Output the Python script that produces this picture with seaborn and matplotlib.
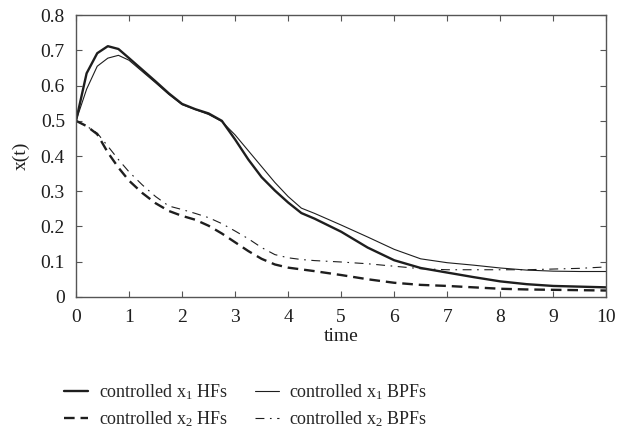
import numpy as np
import pandas as pd
import matplotlib
matplotlib.use("Agg")
import matplotlib.pyplot as plt
import seaborn as sns

# values
time = [0, 0.2, 0.4, 0.6, 0.8, 1.0, 1.25, 1.5, 1.75, 2.0, 2.25, 2.5, 2.75, 3.0, 3.25,
        3.5, 3.75, 4.0, 4.25, 4.5, 5.0, 5.5, 6.0, 6.5, 7.0, 7.5, 8.0, 8.5, 9.0, 9.5, 10.0]
x1_hf = [0.5, 0.635, 0.692, 0.712, 0.704, 0.678, 0.645, 0.612, 0.578, 0.548, 0.533, 0.521,
         0.500, 0.447, 0.39, 0.34, 0.302, 0.268, 0.238, 0.222, 0.185, 0.14, 0.104, 0.082,
         0.069, 0.056, 0.044, 0.036, 0.031, 0.029, 0.027]
x1_bpf = [0.5, 0.59, 0.655, 0.678, 0.686, 0.672, 0.64, 0.608, 0.575, 0.546, 0.532, 0.518,
          0.498, 0.46, 0.415, 0.37, 0.325, 0.285, 0.252, 0.237, 0.204, 0.17, 0.135, 0.108,
          0.097, 0.09, 0.082, 0.076, 0.073, 0.072, 0.072]
x2_hf = [0.5, 0.485, 0.462, 0.41, 0.367, 0.33, 0.295, 0.266, 0.244, 0.23, 0.219, 0.202,
         0.18, 0.155, 0.13, 0.108, 0.092, 0.083, 0.078, 0.073, 0.062, 0.05, 0.04, 0.034,
         0.031, 0.027, 0.023, 0.021, 0.02, 0.019, 0.018]
x2_bpf = [0.5, 0.485, 0.465, 0.428, 0.39, 0.355, 0.318, 0.285, 0.258, 0.248, 0.237, 0.225,
          0.208, 0.187, 0.165, 0.14, 0.12, 0.111, 0.106, 0.103, 0.099, 0.094, 0.087, 0.08,
          0.077, 0.077, 0.077, 0.077, 0.079, 0.081, 0.085]

labels = ["controlled x$_1$ HFs", "controlled x$_2$ HFs",
          "controlled x$_1$ BPFs", "controlled x$_2$ BPFs"]
xticks = [0, 1, 2, 3, 4, 5, 6, 7, 8, 9, 10]
yticks = [0, 0.1, 0.2, 0.3, 0.4, 0.5, 0.6, 0.7, 0.8]
ytick_labels = ["0", "0.1", "0.2", "0.3", "0.4", "0.5", "0.6", "0.7", "0.8"]

sns.set_style("ticks")
plt.rcParams["font.family"] = ["Liberation Serif", "DejaVu Serif"]
plt.rcParams["mathtext.default"] = "regular"

fig = plt.figure(figsize=(6.18, 4.34), dpi=100)
ax = fig.add_axes([0.123, 0.316, 0.858, 0.649])

line_col = "#1e1e1e"
styles = [
    dict(lw=1.7, ls="-"),
    dict(lw=1.7, ls=(0, (4.5, 2.5))),
    dict(lw=0.8, ls="-"),
    dict(lw=0.8, ls=(0, (8, 5, 1.5, 5))),
]
series = [x1_hf, x2_hf, x1_bpf, x2_bpf]
for vals, lab, st in zip(series, labels, styles):
    df = pd.DataFrame({"time": time, "x": vals})
    sns.lineplot(data=df, x="time", y="x", ax=ax, color=line_col,
                 linewidth=st["lw"], linestyle=st["ls"], label=lab)

ax.set_xlim(0, 10)
ax.set_ylim(0, 0.8)
ax.set_xticks(xticks)
ax.set_xticklabels([str(v) for v in xticks])
ax.set_yticks(yticks)
ax.set_yticklabels(ytick_labels)
ax.tick_params(direction="in", length=4, width=0.8, color="#555555",
               top=True, right=True, labelsize=14, labelcolor="#1e1e1e")
ax.tick_params(axis="x", pad=9)
ax.tick_params(axis="y", pad=8)
for sp in ax.spines.values():
    sp.set_color("#555555")
    sp.set_linewidth(1.0)
ax.set_xlabel("time", fontsize=14, labelpad=1, color="#1e1e1e")
ax.set_ylabel("x(t)", fontsize=14, labelpad=8, color="#1e1e1e")

handles, labs = ax.get_legend_handles_labels()
ax.get_legend().remove()
fig.legend(handles, labs, loc="center", bbox_to_anchor=(246 / 618, 1 - 406 / 434),
           ncol=2, frameon=False, fontsize=13, handlelength=1.3,
           columnspacing=1.5, labelspacing=0.4, handletextpad=0.6)

fig.savefig("out.png", dpi=100)
